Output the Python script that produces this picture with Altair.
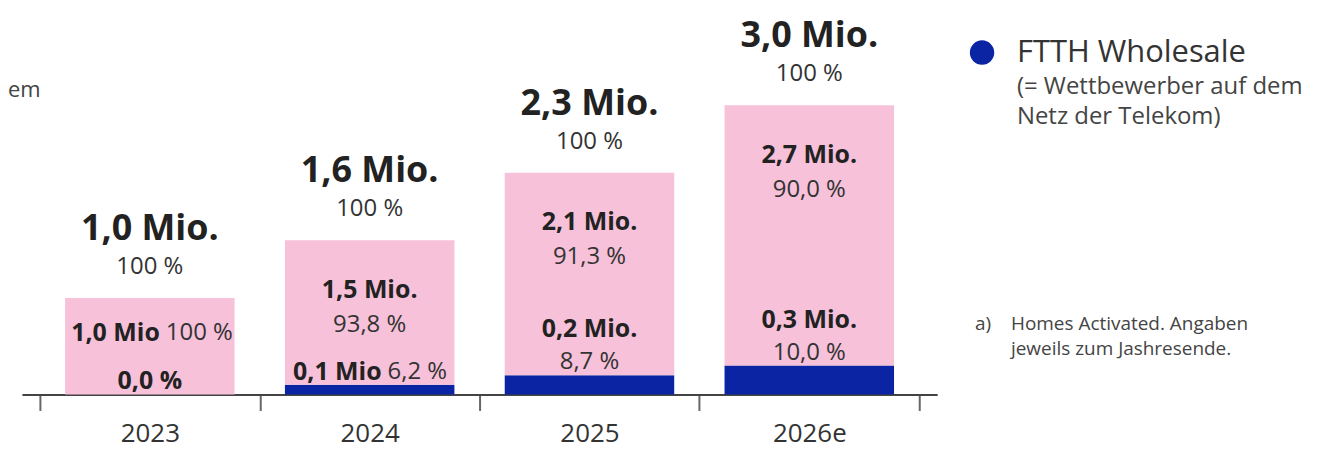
import altair as alt
import pandas as pd

# ---------------- data ----------------
years = ["2023", "2024", "2025", "2026e"]
retail = [1.0, 1.5, 2.1, 2.7]          # pink segment (Mio.)
wholesale = [0.0, 0.1, 0.2, 0.3]       # blue segment: FTTH Wholesale (Mio.)
total = [1.0, 1.6, 2.3, 3.0]

total_labels = ["1,0 Mio.", "1,6 Mio.", "2,3 Mio.", "3,0 Mio."]
total_pct = ["100 %", "100 %", "100 %", "100 %"]
retail_mio = ["1,0 Mio", "1,5 Mio.", "2,1 Mio.", "2,7 Mio."]
retail_pct = ["100 %", "93,8 %", "91,3 %", "90,0 %"]
wholesale_mio = ["", "0,1 Mio", "0,2 Mio.", "0,3 Mio."]
wholesale_pct = ["0,0 %", "6,2 %", "8,7 %", "10,0 %"]

legend_title = "FTTH Wholesale"
legend_sub = ["(= Wettbewerber auf dem", "Netz der Telekom)"]
footnote_mark = "a)"
footnote = ["Homes Activated. Angaben", "jeweils zum Jashresende."]
cut_text = "em"

# ---------------- styling ----------------
FONT = "Open Sans"
PINK = "#F6C1D9"
BLUE = "#0A24A3"
DARK = "#222222"
MID = "#333333"

bars = pd.DataFrame({
    "year": years * 2,
    "segment": ["Wholesale"] * 4 + ["Retail"] * 4,
    "value": wholesale + retail,
    "ord": [0] * 4 + [1] * 4,
})

labels = pd.DataFrame({
    "year": years,
    "total": total,
    "wh": wholesale,
    "base": [0.0] * 4,
    "total_label": total_labels,
    "total_pct": total_pct,
    "retail_mio": retail_mio,
    "retail_pct": retail_pct,
    "wh_mio": wholesale_mio,
    "wh_pct": wholesale_pct,
})

xscale = alt.Scale(domain=years, paddingInner=0, paddingOuter=0.0818)
yscale = alt.Scale(domain=[0, 4.0], nice=False, zero=True)
xaxis = alt.Axis(title=None, labelAngle=0, tickBand="extent",
                 domainColor="#444444", domainWidth=2,
                 tickColor="#666666", tickWidth=2, tickSize=16,
                 labelFontSize=26, labelFont=FONT, labelColor=MID,
                 labelPadding=10, labelBaseline="top", grid=False)
X = alt.X("year:N", sort=years, scale=xscale, axis=xaxis)

bar_layer = alt.Chart(bars).mark_bar(width=170).encode(
    x=X,
    y=alt.Y("value:Q", stack="zero", scale=yscale, axis=None),
    color=alt.Color("segment:N", scale=alt.Scale(domain=["Wholesale", "Retail"],
                                                 range=[BLUE, PINK]), legend=None),
    order=alt.Order("ord:Q", sort="ascending"),
)


def tl(df, field, yfield, dy, size, weight, align="center", dx=0, color=DARK):
    return alt.Chart(df).mark_text(
        dy=dy, dx=dx, fontSize=size, fontWeight=weight, align=align,
        baseline="middle", font=FONT, color=color,
    ).encode(
        x=X,
        y=alt.Y(f"{yfield}:Q", scale=yscale, axis=None),
        text=f"{field}:N",
    )


def sel(ys):
    return labels[labels["year"].isin(ys)]


layers = [bar_layer]
# totals above bars
layers.append(tl(labels, "total_label", "total", -69, 36, "bold"))
layers.append(tl(labels, "total_pct", "total", -31, 24, "normal", color=MID))
# retail (pink) labels, two lines
two = sel(["2024", "2025", "2026e"])
layers.append(tl(two, "retail_mio", "total", 50, 25, "bold"))
layers.append(tl(two, "retail_pct", "total", 85, 24, "normal", color=MID))
# retail 2023 inline
one = sel(["2023"])
layers.append(tl(one, "retail_mio", "total", 35, 25, "bold", align="right", dx=10))
layers.append(tl(one, "retail_pct", "total", 35, 24, "normal", align="left", dx=16, color=MID))
# wholesale labels
layers.append(tl(one, "wh_pct", "base", -14, 25, "bold"))
w24 = sel(["2024"])
layers.append(tl(w24, "wh_mio", "base", -23, 25, "bold", align="right", dx=12))
layers.append(tl(w24, "wh_pct", "base", -23, 24, "normal", align="left", dx=18, color=MID))
w2 = sel(["2025", "2026e"])
layers.append(tl(w2, "wh_mio", "wh", -46, 25, "bold"))
layers.append(tl(w2, "wh_pct", "wh", -13, 24, "normal", color=MID))


def note(text, x, y, size, color=MID, align="left", weight="normal"):
    return alt.Chart(pd.DataFrame({"t": [text]})).mark_text(
        fontSize=size, font=FONT, color=color, align=align, baseline="middle",
        fontWeight=weight,
    ).encode(x=alt.value(x), y=alt.value(y), text="t:N")


# legend
layers.append(alt.Chart(pd.DataFrame({"s": ["Wholesale"]})).mark_point(
    filled=True, size=600, opacity=1, color=BLUE, shape="circle"
).encode(x=alt.value(963), y=alt.value(44)))
layers.append(note(legend_title, 998, 44, 31))
layers.append(note(legend_sub[0], 998, 79, 24, color="#444444"))
layers.append(note(legend_sub[1], 998, 109, 24, color="#444444"))
# footnote
layers.append(note(footnote_mark, 956, 316, 19, color="#444444"))
layers.append(note(footnote[0], 992, 316, 19, color="#444444"))
layers.append(note(footnote[1], 992, 341, 19, color="#444444"))
# cut-off text at left edge
layers.append(note(cut_text, -14, 82, 22, color="#444444", align="left"))

chart = alt.layer(*layers).properties(
    width=918, height=387,
    autosize=alt.AutoSizeParams(type="none"),
    padding={"left": 14, "top": 0, "right": 390, "bottom": 55},
).configure_view(stroke=None)

chart.save("out.html", embed_options={"renderer": "svg", "actions": False})
